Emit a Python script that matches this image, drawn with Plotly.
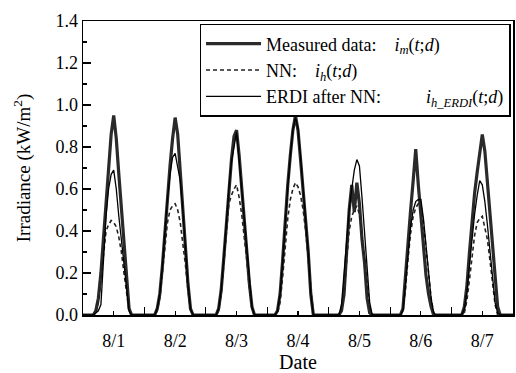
import plotly.graph_objects as go

# ---- data (hourly values, 7 days x 24 h, kW/m^2) ----
day_labels = ["8/1", "8/2", "8/3", "8/4", "8/5", "8/6", "8/7"]

measured_by_day = [
    [0, 0, 0, 0, 0, 0.02, 0.08, 0.20, 0.36, 0.53, 0.70, 0.86, 0.95, 0.84, 0.67, 0.50, 0.32, 0.15, 0.03, 0, 0, 0, 0, 0],
    [0, 0, 0, 0, 0, 0.03, 0.10, 0.23, 0.40, 0.56, 0.71, 0.84, 0.94, 0.86, 0.68, 0.51, 0.33, 0.15, 0.03, 0, 0, 0, 0, 0],
    [0, 0, 0, 0, 0, 0.03, 0.12, 0.27, 0.44, 0.60, 0.74, 0.85, 0.88, 0.76, 0.60, 0.47, 0.30, 0.15, 0.04, 0, 0, 0, 0, 0],
    [0, 0, 0, 0, 0.02, 0.10, 0.26, 0.45, 0.62, 0.76, 0.88, 0.95, 0.88, 0.74, 0.60, 0.48, 0.30, 0.10, 0, 0, 0, 0, 0, 0],
    [0, 0, 0, 0, 0, 0.02, 0.10, 0.30, 0.50, 0.62, 0.49, 0.63, 0.53, 0.36, 0.25, 0.08, 0.01, 0, 0, 0, 0, 0, 0, 0],
    [0, 0, 0, 0, 0, 0.03, 0.20, 0.36, 0.50, 0.64, 0.79, 0.62, 0.46, 0.30, 0.19, 0.10, 0.04, 0, 0, 0, 0, 0, 0, 0],
    [0, 0, 0, 0, 0, 0.04, 0.14, 0.30, 0.46, 0.58, 0.68, 0.78, 0.86, 0.78, 0.63, 0.50, 0.33, 0.16, 0.04, 0, 0, 0, 0, 0],
]

nn_by_day = [
    [0, 0, 0, 0, 0, 0.01, 0.06, 0.17, 0.30, 0.40, 0.43, 0.45, 0.44, 0.42, 0.37, 0.30, 0.20, 0.10, 0.02, 0, 0, 0, 0, 0],
    [0, 0, 0, 0, 0, 0.02, 0.08, 0.20, 0.33, 0.44, 0.50, 0.52, 0.53, 0.50, 0.44, 0.35, 0.24, 0.12, 0.02, 0, 0, 0, 0, 0],
    [0, 0, 0, 0, 0, 0.02, 0.10, 0.24, 0.40, 0.53, 0.57, 0.60, 0.62, 0.56, 0.48, 0.38, 0.26, 0.13, 0.03, 0, 0, 0, 0, 0],
    [0, 0, 0, 0, 0.01, 0.06, 0.18, 0.33, 0.46, 0.55, 0.60, 0.63, 0.61, 0.57, 0.50, 0.40, 0.26, 0.10, 0, 0, 0, 0, 0, 0],
    [0, 0, 0, 0, 0, 0.02, 0.10, 0.26, 0.40, 0.47, 0.50, 0.52, 0.48, 0.38, 0.27, 0.14, 0.04, 0, 0, 0, 0, 0, 0, 0],
    [0, 0, 0, 0, 0, 0.02, 0.12, 0.27, 0.39, 0.47, 0.51, 0.53, 0.52, 0.44, 0.33, 0.20, 0.08, 0.01, 0, 0, 0, 0, 0, 0],
    [0, 0, 0, 0, 0, 0.01, 0.07, 0.17, 0.28, 0.38, 0.44, 0.46, 0.47, 0.42, 0.36, 0.26, 0.14, 0.05, 0, 0, 0, 0, 0, 0],
]

erdi_by_day = [
    [0, 0, 0, 0, 0, 0.01, 0.02, 0.05, 0.28, 0.47, 0.60, 0.67, 0.69, 0.60, 0.47, 0.36, 0.24, 0.11, 0.02, 0, 0, 0, 0, 0],
    [0, 0, 0, 0, 0, 0.03, 0.10, 0.23, 0.40, 0.55, 0.67, 0.75, 0.77, 0.70, 0.64, 0.50, 0.33, 0.15, 0.03, 0, 0, 0, 0, 0],
    [0, 0, 0, 0, 0, 0.03, 0.12, 0.27, 0.44, 0.60, 0.73, 0.80, 0.87, 0.74, 0.60, 0.46, 0.30, 0.15, 0.04, 0, 0, 0, 0, 0],
    [0, 0, 0, 0, 0.02, 0.10, 0.25, 0.44, 0.61, 0.76, 0.88, 0.94, 0.89, 0.75, 0.60, 0.47, 0.30, 0.10, 0, 0, 0, 0, 0, 0],
    [0, 0, 0, 0, 0, 0.05, 0.20, 0.36, 0.50, 0.60, 0.69, 0.74, 0.71, 0.56, 0.38, 0.20, 0.06, 0, 0, 0, 0, 0, 0, 0],
    [0, 0, 0, 0, 0, 0.02, 0.15, 0.30, 0.42, 0.50, 0.54, 0.55, 0.55, 0.46, 0.34, 0.20, 0.08, 0.01, 0, 0, 0, 0, 0, 0],
    [0, 0, 0, 0, 0, 0.03, 0.11, 0.24, 0.37, 0.48, 0.57, 0.64, 0.62, 0.54, 0.43, 0.30, 0.17, 0.06, 0.01, 0, 0, 0, 0, 0],
]

y_tick_vals = [0.0, 0.2, 0.4, 0.6, 0.8, 1.0, 1.2, 1.4]

# ---- flatten to a continuous hourly time axis ----
def flatten(by_day):
    out = []
    for d in by_day:
        out.extend(d)
    out.append(0)
    return out

hours = list(range(len(day_labels) * 24 + 1))
measured = flatten(measured_by_day)
nn = flatten(nn_by_day)
erdi = flatten(erdi_by_day)

FONT = "'Liberation Serif', 'Times New Roman', Times, serif"
GAP = "&nbsp;&nbsp;&nbsp; "

fig = go.Figure()
fig.add_trace(go.Scatter(
    x=hours, y=measured, mode="lines",
    line=dict(color="#2a2a2a", width=3.2),
    name="Measured data:" + GAP + "<i>i</i><sub><i>m</i></sub>(<i>t</i>;<i>d</i>)",
))
fig.add_trace(go.Scatter(
    x=hours, y=nn, mode="lines",
    line=dict(color="#222222", width=1.6, dash="4px,3px"),
    name="NN:" + GAP + "<i>i</i><sub><i>h</i></sub>(<i>t</i>;<i>d</i>)",
))
fig.add_trace(go.Scatter(
    x=hours, y=erdi, mode="lines",
    line=dict(color="#000000", width=1.3),
    name="ERDI after NN:" + GAP + "&nbsp;&nbsp;&nbsp;&nbsp;&nbsp; <i>i</i><sub><i>h_ERDI</i></sub>(<i>t</i>;<i>d</i>)",
))

noon_vals = [24 * i + 12 for i in range(len(day_labels))]
midnight_vals = [24 * i for i in range(len(day_labels) + 1)]

fig.update_layout(
    width=516, height=373,
    margin=dict(l=83, r=3, t=21, b=58, autoexpand=False),
    paper_bgcolor="white", plot_bgcolor="white",
    font=dict(family=FONT, size=18, color="black"),
    showlegend=True,
    legend=dict(
        x=0.271, y=0.99, xanchor="left", yanchor="top",
        bordercolor="black", borderwidth=1.5, bgcolor="white",
        font=dict(family=FONT, size=18, color="black"),
        itemwidth=55, tracegroupgap=0,
    ),
    hovermode=False,
)

fig.update_xaxes(
    range=[0, 168], automargin=False,
    tickmode="array", tickvals=noon_vals, ticktext=day_labels,
    ticks="inside", ticklen=4, tickwidth=1.2, tickcolor="black",
    ticklabelstandoff=9,
    minor=dict(tickmode="array", tickvals=midnight_vals, ticks="inside",
               ticklen=8, tickwidth=1.2, tickcolor="black"),
    showline=True, linecolor="black", linewidth=1.5, mirror=True,
    showgrid=False, zeroline=False,
    tickfont=dict(family=FONT, size=18),
    title=dict(text="Date", font=dict(family=FONT, size=20), standoff=8),
)
fig.update_yaxes(
    range=[0, 1.4], automargin=False,
    tickmode="array", tickvals=y_tick_vals,
    tickformat=".1f",
    ticks="inside", ticklen=8, tickwidth=1.2, tickcolor="black",
    minor=dict(dtick=0.1, ticks="inside", ticklen=4, tickwidth=1.2, tickcolor="black"),
    showline=True, linecolor="black", linewidth=1.5, mirror=True,
    showgrid=False, zeroline=False,
    tickfont=dict(family=FONT, size=18),
    title=dict(text="Irradiance (kW/m<sup>2</sup>)", font=dict(family=FONT, size=19), standoff=20),
)

fig.write_html(
    "out.html",
    config={"displayModeBar": False, "staticPlot": True},
    post_script="document.body.style.margin='0';document.body.style.padding='0';document.body.style.overflow='hidden';",
)
